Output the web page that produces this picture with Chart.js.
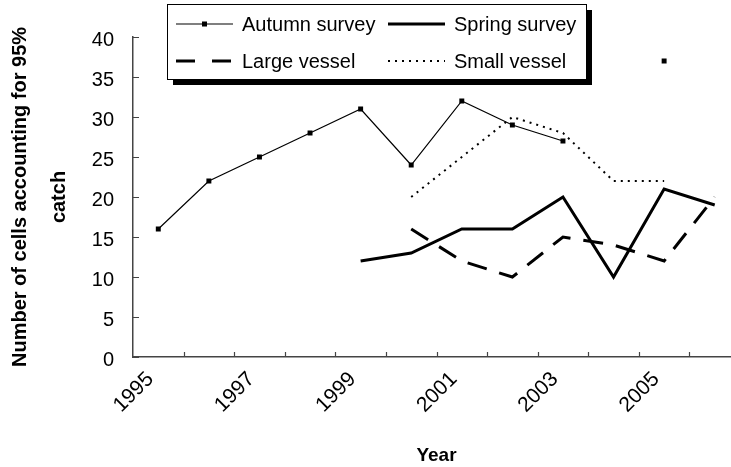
<!DOCTYPE html>
<html><head><meta charset="utf-8">
<script src="https://cdn.jsdelivr.net/npm/chart.js@4"></script>
<style>html,body{margin:0;padding:0;overflow:hidden;background:#fff;width:731px;height:467px}canvas{display:block}</style>
</head><body>
<canvas id="c" width="745" height="467"></canvas>
<script>
const years = ['1995','1996','1997','1998','1999','2000','2001','2002','2003','2004','2005','2006'];
const autumnSurvey = [16,22,25,28,31,24,32,29,27,null,37,null];
const springSurvey = [null,null,null,null,12,13,16,16,20,10,21,19];
const largeVessel  = [null,null,null,null,null,16,12,10,15,14,12,20];
const smallVessel  = [null,null,null,null,null,20,25,30,28,22,22,null];
const seriesNames = ['Autumn survey','Spring survey','Large vessel','Small vessel'];
const yTickValues = [0,5,10,15,20,25,30,35,40];
const yTitle = ['Number of cells accounting for 95%','catch'];
const xTitle = 'Year';

const FONT = "'Liberation Sans', Arial, sans-serif";

const decor = {
  id: 'decor',
  afterDraw(chart) {
    const ctx = chart.ctx;
    const xs = chart.scales.x, ys = chart.scales.y;
    const area = chart.chartArea;
    ctx.save();
    ctx.strokeStyle = '#444';
    ctx.lineWidth = 1.2;
    ctx.setLineDash([]);
    ctx.beginPath();
    for (let i = 1; i <= years.length; i++) {
      const px = Math.round(xs.getPixelForValue(i - 0.5)) + 0.5;
      ctx.moveTo(px, area.bottom);
      ctx.lineTo(px, area.bottom - 5);
    }
    yTickValues.forEach(v => {
      const py = Math.round(ys.getPixelForValue(v)) + 0.5;
      ctx.moveTo(area.left, py);
      ctx.lineTo(area.left + 6, py);
    });
    ctx.stroke();

    // legend
    const bx = 167, by = 4, bw = 419, bh = 75;
    ctx.fillStyle = '#000';
    ctx.fillRect(bx + 6, by + 6, bw, bh);
    ctx.fillStyle = '#fff';
    ctx.fillRect(bx, by, bw, bh);
    ctx.strokeStyle = '#000';
    ctx.lineWidth = 1;
    ctx.strokeRect(bx + 0.5, by + 0.5, bw, bh);
    const pos = [[176, 24], [388, 24], [176, 61], [388, 61]];
    chart.data.datasets.forEach((ds, i) => {
      const [lx, ly] = pos[i];
      ctx.save();
      ctx.strokeStyle = '#000';
      ctx.lineWidth = ds.borderWidth;
      ctx.setLineDash(ds.legendDash || ds.borderDash || []);
      ctx.beginPath();
      ctx.moveTo(lx, ly);
      ctx.lineTo(lx + 57, ly);
      ctx.stroke();
      ctx.setLineDash([]);
      if (ds.pointRadius > 0) {
        ctx.fillStyle = '#000';
        ctx.fillRect(lx + 28.5 - 2.5, ly - 2.5, 5, 5);
      }
      ctx.fillStyle = '#000';
      ctx.font = '20px ' + FONT;
      ctx.textBaseline = 'middle';
      ctx.textAlign = 'left';
      ctx.fillText(ds.label, lx + 66, ly + 1);
      ctx.restore();
    });
    ctx.restore();
  }
};

new Chart(document.getElementById('c'), {
  type: 'line',
  data: {
    labels: years,
    datasets: [
      { label: seriesNames[0], data: autumnSurvey, borderColor: '#000', backgroundColor: '#000', borderWidth: 1.2,
        pointStyle: 'rect', pointRadius: 3.5, pointHoverRadius: 3.5, pointBackgroundColor: '#000', pointBorderWidth: 0 },
      { label: seriesNames[1], data: springSurvey, borderColor: '#000', borderWidth: 3, pointRadius: 0 },
      { label: seriesNames[2], data: largeVessel, borderColor: '#000', borderWidth: 3, borderDash: [20, 13],
        legendDash: [19, 17], pointRadius: 0 },
      { label: seriesNames[3], data: smallVessel, borderColor: '#000', borderWidth: 2, borderDash: [2, 5], pointRadius: 0 }
    ]
  },
  options: {
    responsive: false,
    animation: false,
    events: [],
    layout: { padding: { top: 37, right: 5, left: 0, bottom: 0 } },
    plugins: { legend: { display: false }, tooltip: { enabled: false } },
    scales: {
      x: {
        type: 'category',
        offset: true,
        grid: { display: true, offset: true, drawOnChartArea: false, drawTicks: false },
        border: { display: true, color: '#444', width: 1.5 },
        ticks: {
          autoSkip: false, maxRotation: 45, minRotation: 45, padding: 10, labelOffset: -8,
          color: '#000', font: { family: FONT, size: 21 },
          callback: function (v, i) { return i % 2 === 0 ? years[i] : ''; }
        },
        title: { display: true, text: xTitle, color: '#000', font: { family: FONT, size: 19, weight: 'bold' },
                 padding: { top: 0, bottom: 0 } },
        afterFit: s => { s.height = 110; }
      },
      y: {
        min: 0, max: 40,
        grid: { display: true, drawOnChartArea: false, drawTicks: false },
        border: { display: true, color: '#444', width: 1.5 },
        afterBuildTicks: s => { s.ticks = yTickValues.map(v => ({ value: v })); },
        ticks: { padding: 19, labelOffset: 3, color: '#000', font: { family: FONT, size: 20 } },
        title: { display: true, text: yTitle, color: '#000',
                 font: { family: FONT, size: 20, weight: 'bold', lineHeight: 1.95 },
                 padding: { top: 1, bottom: 0 } },
        afterFit: s => { s.width = 133; }
      }
    }
  },
  plugins: [decor]
});
</script>
</body></html>
